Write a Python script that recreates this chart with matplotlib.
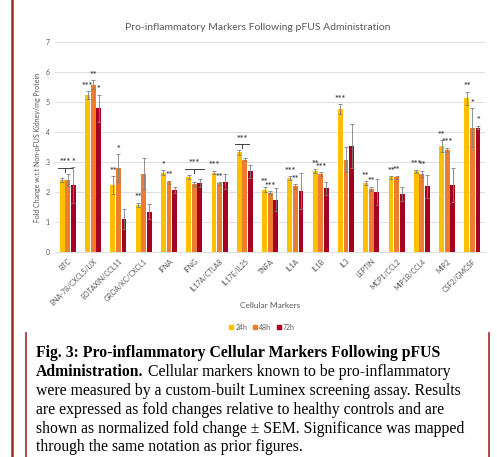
import numpy as np
import matplotlib
matplotlib.use("Agg")
import matplotlib.pyplot as plt
from matplotlib.lines import Line2D

markers = ["BTC", "ENA-78/CXCL5/LIX", "EOTAXIN/CCL11", "GROA/KC/CXCL1", "IFNA", "IFNG",
           "IL17A/CTLA8", "IL17E/IL25", "TNFA", "IL1A", "IL1B", "IL3", "LEPTIN",
           "MCP1/CCL2", "MIP1B/CCL4", "MIP2", "CSF2/GMCSF"]

fc_24h = [2.41, 5.24, 2.24, 1.58, 2.65, 2.50, 2.65, 3.32, 2.08, 2.47, 2.71, 4.77, 2.30, 2.49, 2.69, 3.54, 5.13]
fc_48h = [2.41, 5.58, 2.80, 2.61, 2.33, 2.27, 2.29, 3.08, 1.97, 2.19, 2.61, 3.08, 2.11, 2.50, 2.61, 3.41, 4.15]
fc_72h = [2.22, 4.80, 1.10, 1.35, 2.08, 2.30, 2.35, 2.69, 1.74, 2.04, 2.13, 3.54, 2.00, 1.93, 2.19, 2.24, 4.15]

sem_24h = [0.07, 0.13, 0.30, 0.07, 0.07, 0.08, 0.06, 0.08, 0.08, 0.07, 0.06, 0.16, 0.06, 0.05, 0.06, 0.20, 0.22]
sem_48h = [0.20, 0.16, 0.47, 0.52, 0.05, 0.06, 0.05, 0.05, 0.05, 0.08, 0.06, 0.42, 0.07, 0.05, 0.10, 0.07, 0.65]
sem_72h = [0.60, 0.45, 0.34, 0.26, 0.10, 0.14, 0.25, 0.22, 0.38, 0.59, 0.22, 0.74, 0.44, 0.24, 0.38, 0.56, 0.06]

stars_24h = ["", "***", "**", "**", "*", "", "***", "", "**", "***", "**", "***", "**", "**", "***", "**", "**"]
stars_48h = ["", "**", "*", "", "**", "", "**", "", "***", "**", "***", "", "**", "**", "**", "***", "*"]
stars_72h = ["*", "*", "", "", "", "", "", "", "", "", "", "", "", "", "", "", "*"]

# brackets: (marker index, first series, last series, label)
brackets = [(0, 0, 1, "***"), (5, 0, 2, "***"), (7, 0, 1, "***")]

series = ["24h", "48h", "72h"]
colors = ["#FFC000", "#ED7D31", "#A50021"]

caption = [
    "were measured by a custom-built Luminex screening assay. Results",
    "are expressed as fold changes relative to healthy controls and are",
    "shown as normalized fold change \u00b1 SEM. Significance was mapped",
    "through the same notation as prior figures.",
]

GRAY = "#595959"
plt.rcParams["font.family"] = ["Lato", "DejaVu Sans"]

fig = plt.figure(figsize=(4.97, 4.57), dpi=100)
ax = fig.add_axes([0.111, 0.4486, 0.865, 0.4594])

x = np.arange(len(markers))
step, width = 0.22, 0.19
vals = [fc_24h, fc_48h, fc_72h]
sems = [sem_24h, sem_48h, sem_72h]
stars = [stars_24h, stars_48h, stars_72h]

for i in range(3):
    pos = x + (i - 1) * step
    ax.bar(pos, vals[i], width, color=colors[i], label=series[i], zorder=2)
    ax.errorbar(pos, vals[i], yerr=sems[i], fmt="none", ecolor="#7F7F7F",
                elinewidth=0.6, capsize=1.5, capthick=0.6, zorder=3)
    for j in range(len(markers)):
        if stars[i][j]:
            ax.text(pos[j], vals[i][j] + sems[i][j] + 0.01, stars[i][j], ha="center",
                    va="bottom", fontsize=6.5, fontweight="bold", color="#404040")

for j, a, b, lab in brackets:
    left = x[j] + (a - 1) * step - 0.15
    right = x[j] + (b - 1) * step + 0.15
    top = max(vals[k][j] + sems[k][j] for k in range(a, b + 1)) + 0.2
    mid = (left + right) / 2
    ax.plot([left, right], [top, top], color="#404040", lw=0.7, zorder=3)
    ax.plot([mid, mid], [top, top - 0.13], color="#404040", lw=0.7, zorder=3)
    ax.text(mid, top + 0.01, lab, ha="center", va="bottom", fontsize=6.5,
            fontweight="bold", color="#404040")

ax.set_xlim(-0.5, len(markers) - 0.5)
ax.set_ylim(0, 7)
ax.set_yticks(range(8))
ax.set_xticks(x)
ax.set_xticklabels(markers, rotation=45, ha="right", rotation_mode="anchor")
ax.tick_params(axis="both", length=0, labelsize=5, colors=GRAY, pad=4)
ax.grid(axis="y", color="#D9D9D9", lw=0.6, zorder=0)
for s in ["top", "right", "left"]:
    ax.spines[s].set_visible(False)
ax.spines["bottom"].set_color("#D9D9D9")
ax.spines["bottom"].set_linewidth(0.6)

ax.set_ylabel("Fold Change w.r.t Non-pFUS Kidney/mg Protein", fontsize=5, color=GRAY, labelpad=3)
fig.text(270 / 497, 1 - 306 / 457, "Cellular Markers", ha="center", va="center", fontsize=6, color=GRAY)
fig.text(258 / 497, 1 - 27 / 457, "Pro-inflammatory Markers Following pFUS Administration",
         ha="center", va="center", fontsize=7.5, color=GRAY)

handles = [Line2D([], [], ls="", marker="s", markersize=3, color=c) for c in colors]
fig.legend(handles, series, loc="center", bbox_to_anchor=(262 / 497, 1 - 327 / 457), ncol=3,
           frameon=False, fontsize=5, handlelength=0.6, handletextpad=0.3, columnspacing=0.8,
           labelcolor=GRAY)

# border lines of the page
red = "#9E2A2B"
fig.add_artist(Line2D([12 / 497, 12 / 497], [0, 1], color=red, lw=1.8))
fig.add_artist(Line2D([26 / 497, 26 / 497], [0, 1 - 333 / 457], color=red, lw=1.2))
fig.add_artist(Line2D([489 / 497, 489 / 497], [0, 1 - 333 / 457], color=red, lw=1.2))

# caption
serif = ["Liberation Serif", "DejaVu Serif"]
cx = 36 / 497
fs = 11.3
fig.text(cx, 1 - 353 / 457, "Fig. 3: Pro-inflammatory Cellular Markers Following pFUS",
         family=serif, fontweight="bold", fontsize=fs, va="center")
bold2 = fig.text(cx, 1 - 372 / 457, "Administration.", family=serif, fontweight="bold",
                 fontsize=fs, va="center")
fig.canvas.draw()
bb = bold2.get_window_extent(renderer=fig.canvas.get_renderer())
fig.text(bb.x1 / fig.bbox.width, 1 - 372 / 457, " Cellular markers known to be pro-inflammatory",
         family=serif, fontsize=fs, va="center")
for k, line in enumerate(caption):
    fig.text(cx, 1 - (391 + k * 18.8) / 457, line, family=serif, fontsize=fs, va="center")

fig.savefig("out.png", dpi=100)
